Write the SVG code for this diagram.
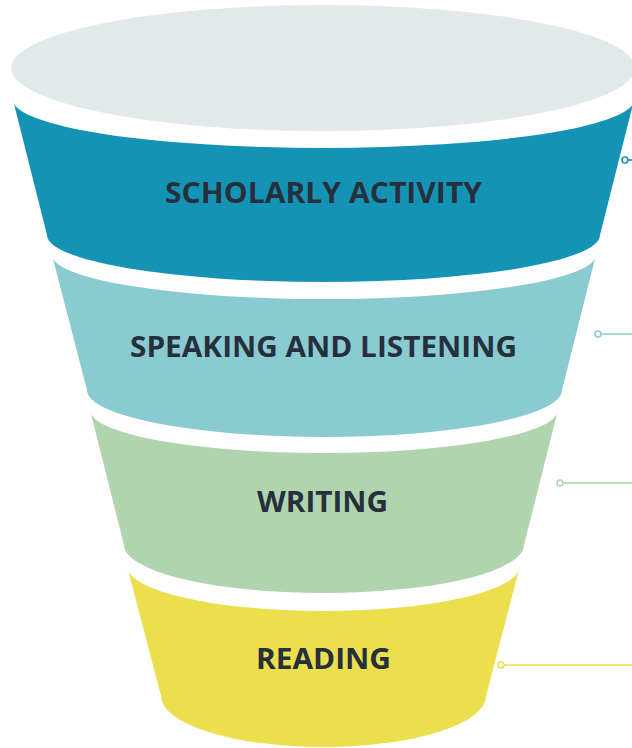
<svg xmlns="http://www.w3.org/2000/svg" width="632" height="748" viewBox="0 0 632 748">
<style>
.lbl{font-family:"Open Sans","Noto Sans","Liberation Sans",sans-serif;font-weight:700;font-size:29px;fill:#26303D;text-anchor:middle}
.dot{fill:#ffffff;stroke-width:1.6}
.ln{stroke-width:1.6;fill:none}
</style>
<rect width="632" height="748" fill="#ffffff"/>
<g id="top">
<ellipse cx="323" cy="68" rx="312" ry="63" fill="#E1E9EB"/>
</g>
<g id="scholarly-activity">
<path d="M13,100 A310.5,48 0 0 0 634,100 L600,235 A276.5,47 0 0 1 47,235 Z" fill="#1593B5"/>
<text class="lbl" x="323.5" y="203" textLength="317" lengthAdjust="spacingAndGlyphs">SCHOLARLY ACTIVITY</text>
</g>
<g id="speaking-and-listening">
<path d="M52,255 A272,44 0 0 0 596,255 L562,390 A237.5,47 0 0 1 87,390 Z" fill="#89CBD1"/>
<text class="lbl" x="323.5" y="357" textLength="387" lengthAdjust="spacingAndGlyphs">SPEAKING AND LISTENING</text>
</g>
<g id="writing">
<path d="M90,410 A234,43 0 0 0 558,410 L524,545 A200,48 0 0 1 124,545 Z" fill="#AFD4AE"/>
<text class="lbl" x="322.5" y="512" textLength="131" lengthAdjust="spacingAndGlyphs">WRITING</text>
</g>
<g id="reading">
<path d="M127,566 A196.5,45 0 0 0 520,566 L486,696 A162.5,51 0 0 1 161,696 Z" fill="#EBDF4E"/>
<text class="lbl" x="323.5" y="669" textLength="135" lengthAdjust="spacingAndGlyphs">READING</text>
</g>
<g id="connectors">
<line class="ln" x1="628" y1="160" x2="634" y2="160" stroke="#1593B5"/>
<circle class="dot" cx="625" cy="160" r="3" stroke="#1593B5"/>
<line class="ln" x1="601" y1="334" x2="634" y2="334" stroke="#89CBD1"/>
<circle class="dot" cx="598" cy="334" r="3" stroke="#89CBD1"/>
<line class="ln" x1="563" y1="483" x2="634" y2="483" stroke="#AFD4AE"/>
<circle class="dot" cx="560" cy="483" r="3" stroke="#AFD4AE"/>
<line class="ln" x1="504" y1="665" x2="634" y2="665" stroke="#EBDF4E"/>
<circle class="dot" cx="501" cy="665" r="3" stroke="#EBDF4E"/>
</g>
</svg>
